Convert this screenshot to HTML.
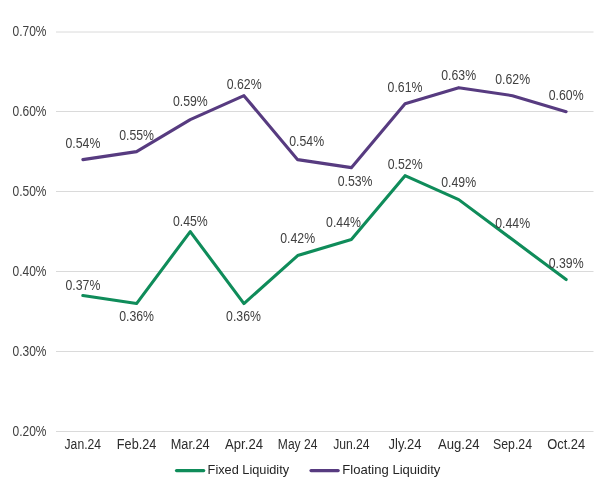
<!DOCTYPE html>
<html lang="en">
<head>
<meta charset="utf-8">
<title>Fixed vs Floating Liquidity</title>
<style>
html,body{margin:0;padding:0;background:#fff;}
body{width:600px;height:493px;overflow:hidden;}
svg{display:block;}
text{font-family:"Liberation Sans",Arial,sans-serif;fill:#404040;}
.ax{font-size:14px;}
.dl{font-size:14px;text-anchor:middle;}
.xl{font-size:13.8px;text-anchor:middle;fill:#2c2c2c;}
.lg{font-size:13.5px;fill:#242424;}
</style>
</head>
<body>
<svg width="600" height="493" viewBox="0 0 600 493">
<rect width="600" height="493" fill="#ffffff"/>

<line x1="56.0" y1="431.50" x2="593.5" y2="431.50" stroke="#dadada" stroke-width="1"/>
<text class="ax" x="12.5" y="435.5" textLength="34" lengthAdjust="spacingAndGlyphs">0.20%</text>
<line x1="56.0" y1="351.50" x2="593.5" y2="351.50" stroke="#dadada" stroke-width="1"/>
<text class="ax" x="12.5" y="355.5" textLength="34" lengthAdjust="spacingAndGlyphs">0.30%</text>
<line x1="56.0" y1="271.50" x2="593.5" y2="271.50" stroke="#dadada" stroke-width="1"/>
<text class="ax" x="12.5" y="275.6" textLength="34" lengthAdjust="spacingAndGlyphs">0.40%</text>
<line x1="56.0" y1="191.50" x2="593.5" y2="191.50" stroke="#dadada" stroke-width="1"/>
<text class="ax" x="12.5" y="195.6" textLength="34" lengthAdjust="spacingAndGlyphs">0.50%</text>
<line x1="56.0" y1="111.50" x2="593.5" y2="111.50" stroke="#dadada" stroke-width="1"/>
<text class="ax" x="12.5" y="115.7" textLength="34" lengthAdjust="spacingAndGlyphs">0.60%</text>
<line x1="56.0" y1="32.00" x2="593.5" y2="32.00" stroke="#dadada" stroke-width="1"/>
<text class="ax" x="12.5" y="35.7" textLength="34" lengthAdjust="spacingAndGlyphs">0.70%</text>
<polyline points="82.85,159.64 136.55,151.64 190.25,119.66 243.95,95.67 297.65,159.64 351.35,167.63 405.05,103.66 458.75,87.67 512.45,95.67 566.15,111.66" fill="none" stroke="#573b80" stroke-width="3.1" stroke-linejoin="round" stroke-linecap="round"/>
<polyline points="82.85,295.57 136.55,303.56 190.25,231.60 243.95,303.56 297.65,255.59 351.35,239.60 405.05,175.63 458.75,199.62 512.45,239.60 566.15,279.58" fill="none" stroke="#0f8c5a" stroke-width="3.1" stroke-linejoin="round" stroke-linecap="round"/>
<text class="dl" x="82.9" y="148.0" textLength="34.8" lengthAdjust="spacingAndGlyphs">0.54%</text>
<text class="dl" x="136.6" y="140.0" textLength="34.8" lengthAdjust="spacingAndGlyphs">0.55%</text>
<text class="dl" x="190.3" y="106.0" textLength="34.8" lengthAdjust="spacingAndGlyphs">0.59%</text>
<text class="dl" x="244.2" y="89.0" textLength="34.8" lengthAdjust="spacingAndGlyphs">0.62%</text>
<text class="dl" x="306.7" y="146.0" textLength="34.8" lengthAdjust="spacingAndGlyphs">0.54%</text>
<text class="dl" x="355.1" y="185.8" textLength="34.8" lengthAdjust="spacingAndGlyphs">0.53%</text>
<text class="dl" x="405.0" y="92.0" textLength="34.8" lengthAdjust="spacingAndGlyphs">0.61%</text>
<text class="dl" x="458.7" y="80.3" textLength="34.8" lengthAdjust="spacingAndGlyphs">0.63%</text>
<text class="dl" x="512.7" y="84.0" textLength="34.8" lengthAdjust="spacingAndGlyphs">0.62%</text>
<text class="dl" x="566.2" y="99.8" textLength="34.8" lengthAdjust="spacingAndGlyphs">0.60%</text>
<text class="dl" x="82.9" y="289.7" textLength="34.8" lengthAdjust="spacingAndGlyphs">0.37%</text>
<text class="dl" x="136.6" y="320.8" textLength="34.8" lengthAdjust="spacingAndGlyphs">0.36%</text>
<text class="dl" x="190.3" y="225.8" textLength="34.8" lengthAdjust="spacingAndGlyphs">0.45%</text>
<text class="dl" x="243.5" y="320.8" textLength="34.8" lengthAdjust="spacingAndGlyphs">0.36%</text>
<text class="dl" x="297.7" y="243.0" textLength="34.8" lengthAdjust="spacingAndGlyphs">0.42%</text>
<text class="dl" x="343.5" y="227.3" textLength="34.8" lengthAdjust="spacingAndGlyphs">0.44%</text>
<text class="dl" x="405.2" y="169.0" textLength="34.8" lengthAdjust="spacingAndGlyphs">0.52%</text>
<text class="dl" x="458.7" y="187.3" textLength="34.8" lengthAdjust="spacingAndGlyphs">0.49%</text>
<text class="dl" x="512.7" y="227.6" textLength="34.8" lengthAdjust="spacingAndGlyphs">0.44%</text>
<text class="dl" x="566.2" y="267.7" textLength="34.8" lengthAdjust="spacingAndGlyphs">0.39%</text>
<text class="xl" x="82.8" y="448.5" textLength="36.5" lengthAdjust="spacingAndGlyphs">Jan.24</text>
<text class="xl" x="136.6" y="448.5" textLength="39.5" lengthAdjust="spacingAndGlyphs">Feb.24</text>
<text class="xl" x="190.2" y="448.5" textLength="39" lengthAdjust="spacingAndGlyphs">Mar.24</text>
<text class="xl" x="244.0" y="448.5" textLength="38" lengthAdjust="spacingAndGlyphs">Apr.24</text>
<text class="xl" x="297.6" y="448.5" textLength="39.5" lengthAdjust="spacingAndGlyphs">May 24</text>
<text class="xl" x="351.4" y="448.5" textLength="36.5" lengthAdjust="spacingAndGlyphs">Jun.24</text>
<text class="xl" x="405.1" y="448.5" textLength="33" lengthAdjust="spacingAndGlyphs">Jly.24</text>
<text class="xl" x="458.8" y="448.5" textLength="41.5" lengthAdjust="spacingAndGlyphs">Aug.24</text>
<text class="xl" x="512.5" y="448.5" textLength="39" lengthAdjust="spacingAndGlyphs">Sep.24</text>
<text class="xl" x="566.2" y="448.5" textLength="38" lengthAdjust="spacingAndGlyphs">Oct.24</text>
<line x1="176.5" y1="470.6" x2="203.7" y2="470.6" stroke="#0f8c5a" stroke-width="3.2" stroke-linecap="round"/>
<text class="lg" x="207.6" y="473.9" textLength="81.5" lengthAdjust="spacingAndGlyphs">Fixed Liquidity</text>
<line x1="311" y1="470.6" x2="338.2" y2="470.6" stroke="#573b80" stroke-width="3.2" stroke-linecap="round"/>
<text class="lg" x="342.3" y="473.9" textLength="98" lengthAdjust="spacingAndGlyphs">Floating Liquidity</text>
</svg>
</body>
</html>
